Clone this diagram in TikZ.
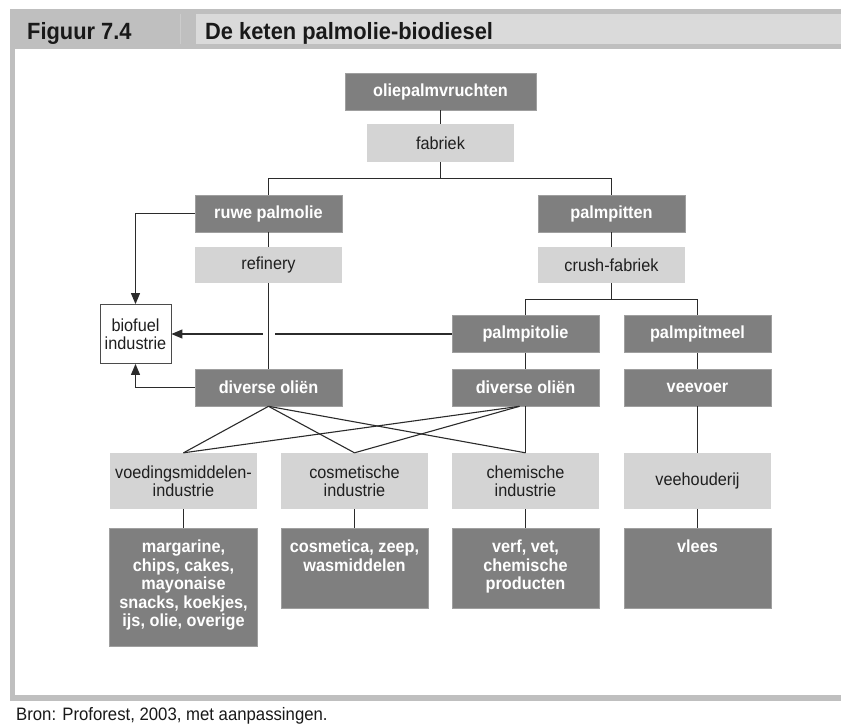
\documentclass[tikz,border=0pt]{standalone}
\usepackage{fontspec}
\setmainfont{Liberation Sans}[FakeStretch=0.93]
\usetikzlibrary{arrows.meta}
\definecolor{donker}{HTML}{7F7F7F}
\definecolor{licht}{HTML}{D4D4D4}
\definecolor{kader}{HTML}{BFBFBF}
\definecolor{titelvak}{HTML}{DADADA}
\definecolor{lijn}{HTML}{2B2B2B}
\newcommand{\boxfont}{\fontsize{17.5}{18.5}\selectfont}
\tikzset{
  product/.style={fill=donker, draw=gray!75, line width=0.6pt, minimum width=147pt,
    minimum height=37pt, inner sep=0pt, text=white, font=\boxfont\bfseries, align=center},
  proces/.style={fill=licht, minimum width=147pt, minimum height=37pt, inner sep=0pt,
    text=black!88, font=\boxfont, align=center},
  eind/.style={product, minimum height=80pt, anchor=north},
  eindtekst/.style={text=white, font=\boxfont\bfseries, align=center, inner sep=0pt, anchor=north},
  verbind/.style={draw=lijn, line width=1.1pt},
  pijl/.style={verbind, -{Triangle[length=11pt,width=9pt]}},
}
\begin{document}
\begin{tikzpicture}[x=1pt,y=-1pt]
  \useasboundingbox (0,0) rectangle (841,724);
  \fill[kader] (10,9) rectangle (841,49);
  \fill[titelvak] (196,14) rectangle (841,44);
  \draw[kader!80!white] (180,14) -- (180,44);
  \fill[kader] (10,49) rectangle (15,701);
  \fill[kader] (10,695) rectangle (841,701);
  \node[anchor=base west, inner sep=0pt, text=black!90, font=\fontsize{23.5}{25}\selectfont\bfseries] (figuur) at (27,39) {Figuur 7.4};
  \node[anchor=base west, inner sep=0pt, text=black!90, font=\fontsize{23.5}{25}\selectfont\bfseries] (titel) at (205,39) {De keten palmolie-biodiesel};
  \node[anchor=base west, inner sep=0pt, text=black!90, font=\fontsize{18}{19}\selectfont] (bron) at (16,720) {Bron: Proforest, 2003, met aanpassingen.};

  \node[product, minimum width=191pt] (vrucht) at (440.5,91.5) {oliepalmvruchten};
  \node[proces, minimum height=38pt] (fabriek) at (440.5,143) {fabriek};
  \node[product] (ruwe) at (268.5,213.5) {ruwe palmolie};
  \node[proces, minimum height=36pt] (raffin) at (268.5,265) {refinery};
  \node[product] (pitten) at (611.5,213.5) {palmpitten};
  \node[proces, minimum height=36pt] (crush) at (611.5,265) {crush-fabriek};
  \node[product] (pitolie) at (525.5,334) {palmpitolie};
  \node[product] (pitmeel) at (697.5,334) {palmpitmeel};
  \node[product] (olienL) at (268.5,387.5) {diverse oliën};
  \node[product] (olienR) at (525.5,387.5) {diverse oliën};
  \node[product] (veevoer) at (697.5,387.5) {veevoer};
  \node[draw=lijn!85, line width=0.8pt, fill=white, minimum width=71pt, minimum height=59pt,
    inner sep=0pt, align=center, text=black!88, font=\boxfont] (biofuel) at (135.5,334) {biofuel\\industrie};

  \node[proces, minimum height=56pt] (voeding) at (183.5,481) {voedingsmiddelen-\\industrie};
  \node[proces, minimum height=56pt] (cosm) at (354.5,481) {cosmetische\\industrie};
  \node[proces, minimum height=56pt] (chem) at (525.5,481) {chemische\\industrie};
  \node[proces, minimum height=56pt] (veeh) at (697.5,481) {veehouderij};

  \node[eind, minimum width=148pt, minimum height=118pt] (marg) at (183.5,528) {};
  \node[eind] (cosmet) at (354.5,528) {};
  \node[eind] (verf) at (525.5,528) {};
  \node[eind] (vlees) at (697.5,528) {};
  \node[eindtekst] (margtxt) at ([yshift=-12pt]marg.north) {margarine,\\chips, cakes,\\mayonaise\\snacks, koekjes,\\ijs, olie, overige};
  \node[eindtekst] (cosmettxt) at ([yshift=-12pt]cosmet.north) {cosmetica, zeep,\\wasmiddelen};
  \node[eindtekst] (verftxt) at ([yshift=-12pt]verf.north) {verf, vet,\\chemische\\producten};
  \node[eindtekst] (vleestxt) at ([yshift=-12pt]vlees.north) {vlees};

  \draw[verbind] (vrucht) -- (fabriek);
  \draw[verbind] (fabriek.south) -- ++(0,16.5) coordinate (splits1);
  \draw[verbind] (ruwe.north) |- (splits1) -| (pitten.north);
  \draw[verbind] (ruwe) -- (raffin);
  \draw[verbind] (raffin) -- (olienL);
  \draw[verbind] (pitten) -- (crush);
  \draw[verbind] (crush.south) -- ++(0,16.5) coordinate (splits2);
  \draw[verbind] (pitolie.north) |- (splits2) -| (pitmeel.north);
  \draw[verbind] (pitolie) -- (olienR);
  \draw[verbind] (pitmeel) -- (veevoer);
  \draw[verbind] (veevoer) -- (veeh);

  \draw[pijl] (ruwe.west) -| (biofuel.north);
  \draw[pijl] (olienL.west) -| (biofuel.south);
  \path (raffin.south |- pitolie.west) coordinate (kruis);
  \draw[verbind] (pitolie.west) -- ([xshift=6pt]kruis);
  \draw[pijl] ([xshift=-6pt]kruis) -- (biofuel.east);% onderbroken bij de lijn van refinery

  \foreach \doel in {voeding,cosm,chem}
    \draw[verbind] (olienL.south) -- (\doel.north);
  \foreach \doel in {voeding,cosm}
    \draw[verbind] ([xshift=-6pt]olienR.south) -- (\doel.north);
  \draw[verbind] (olienR) -- (chem);

  \draw[verbind] (voeding) -- (marg);
  \draw[verbind] (cosm) -- (cosmet);
  \draw[verbind] (chem) -- (verf);
  \draw[verbind] (veeh) -- (vlees);
\end{tikzpicture}
\end{document}
